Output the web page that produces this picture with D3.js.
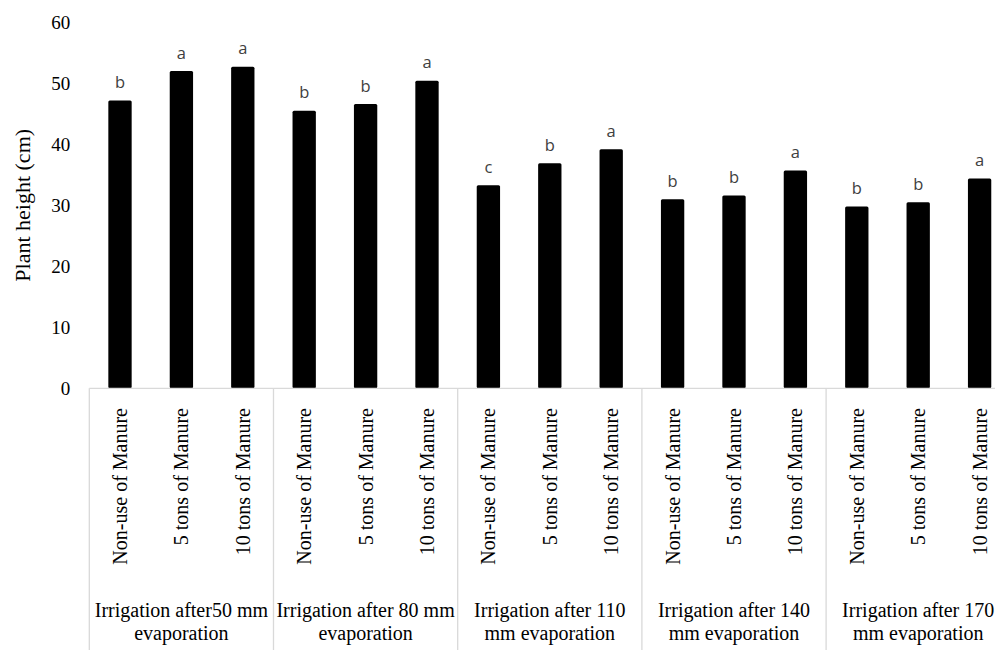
<!DOCTYPE html>
<html><head><meta charset="utf-8">
<script src="https://cdn.jsdelivr.net/npm/d3@7"></script>
<style>html,body{margin:0;padding:0;background:#fff;}svg{display:block;}</style>
</head><body>
<svg id="chart" width="995" height="650"></svg>
<script>
const groups = ["Irrigation after50 mm|evaporation", "Irrigation after 80 mm|evaporation", "Irrigation after 110|mm evaporation", "Irrigation after 140|mm evaporation", "Irrigation after 170|mm evaporation"];
const treatments = ["Non-use of Manure", "5 tons of Manure", "10 tons of Manure"];
const heights = [47.2, 52.0, 52.7, 45.5, 46.6, 50.4, 33.3, 36.9, 39.2, 31.0, 31.6, 35.7, 29.8, 30.5, 34.4];
const letters = ["b","a","a","b","b","a","c","b","a","b","b","a","b","b","a"];
const yTicks = [0,10,20,30,40,50,60];
const yTitle = "Plant height (cm)";

const svg = d3.select("#chart");
svg.append("rect").attr("width",995).attr("height",650).attr("fill","#fff");

const keys = heights.map((d,i)=>i);
const x0 = 89.3, x1 = 1010.3, y0 = 388.3;
const x = d3.scaleBand().domain(keys).range([x0, x1]).paddingInner(0.62).paddingOuter(0.31);
const y = d3.scaleLinear().domain([0,60]).range([y0, 22.3]);
const groupScale = d3.scaleBand().domain(groups.map((d,i)=>i)).range([x0, x1]);

// y axis
const ya = svg.append("g").attr("transform",`translate(${x0},0)`)
  .call(d3.axisLeft(y).tickValues(yTicks).tickSize(0).tickPadding(19));
ya.select(".domain").remove();
ya.selectAll("text").attr("font-family","'Liberation Serif', serif").attr("font-size",19).attr("fill","#000");

svg.append("text").attr("transform",`translate(22,${(y0+22.3)/2}) rotate(-90)`)
  .attr("text-anchor","middle").attr("dy","0.35em")
  .attr("font-family","'Liberation Serif', serif").attr("font-size",22).attr("fill","#000")
  .text(yTitle);

// bars
svg.append("g").selectAll("rect").data(heights).join("rect")
  .attr("x",(d,i)=>x(i)).attr("width",x.bandwidth())
  .attr("y",d=>y(d)).attr("height",d=>y0-y(d))
  .attr("rx",1.5).attr("fill","#000");

// letters
svg.append("g").selectAll("text").data(heights).join("text")
  .attr("x",(d,i)=>x(i)+x.bandwidth()/2).attr("y",d=>y(d)-12.5)
  .attr("text-anchor","middle")
  .attr("font-family","'Open Sans', sans-serif").attr("font-size",16.5).attr("fill","#404040")
  .text((d,i)=>letters[i]);

// table lines
const lineCol = "#d9d9d9";
svg.append("line").attr("x1",x0).attr("x2",x1).attr("y1",y0).attr("y2",y0)
  .attr("stroke",lineCol).attr("stroke-width",1.3);
svg.append("g").selectAll("line").data(d3.range(groups.length+1)).join("line")
  .attr("x1",g=>x0+g*groupScale.step()).attr("x2",g=>x0+g*groupScale.step())
  .attr("y1",y0).attr("y2",650).attr("stroke",lineCol).attr("stroke-width",1.3);

// category labels
svg.append("g").selectAll("text").data(heights).join("text")
  .attr("transform",(d,i)=>`translate(${x(i)+x.bandwidth()/2},408) rotate(-90)`)
  .attr("text-anchor","end").attr("dy","0.35em")
  .attr("font-family","'Liberation Serif', serif").attr("font-size",20).attr("fill","#000")
  .text((d,i)=>treatments[i%3]);

// group labels
groups.forEach((g,gi)=>{
  const cx = groupScale(gi)+groupScale.bandwidth()/2;
  const t = svg.append("text").attr("text-anchor","middle")
    .attr("font-family","'Liberation Serif', serif").attr("font-size",20).attr("fill","#000");
  g.split("|").forEach((ln,li)=>{
    t.append("tspan").attr("x",cx).attr("y",617+li*23).text(ln);
  });
});
</script>
</body></html>
